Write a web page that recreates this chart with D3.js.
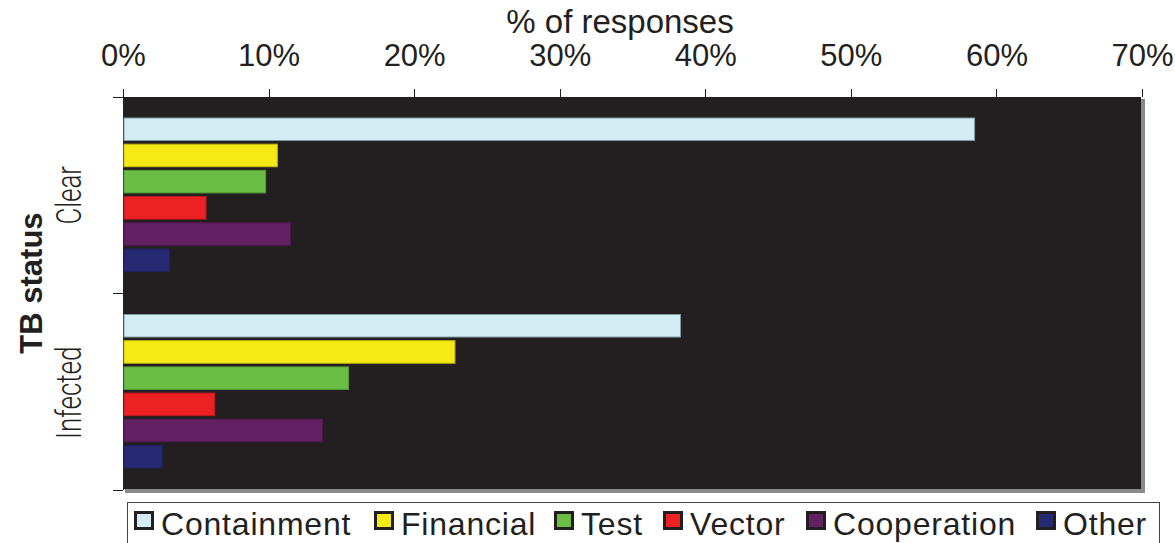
<!DOCTYPE html>
<head>
<meta charset="utf-8">
<title>TB status - % of responses</title>
<script src="https://d3js.org/d3.v7.min.js"></script>
<style>
body { margin: 0; background: #fff; }
.tick text { font-family: "Liberation Sans", Arial, sans-serif; font-size: 31px; fill: #231f20; }
.axis line { stroke: #231f20; stroke-width: 1; shape-rendering: crispEdges; }
.axis path { stroke: #231f20; stroke-width: 1; shape-rendering: crispEdges; }
.cat { font-family: Roboto, sans-serif; font-weight: 300; font-size: 36px; fill: #231f20; }
.legend text { font-family: "Liberation Sans", Arial, sans-serif; font-size: 32px; letter-spacing: 0.8px; fill: #231f20; }
</style>
</head>
<body>
<div id="container"></div>
<script>
// ---------- data ----------
var groups = ["Clear", "Infected"];
var seriesNames = ["Containment", "Financial", "Test", "Vector", "Cooperation", "Other"];
var seriesColors = ["#d3ecf3", "#f5e916", "#6abd45", "#ed2024", "#632063", "#262a73"];
var clearValues = [58.5, 10.6, 9.8, 5.7, 11.5, 3.2];
var infectedValues = [38.3, 22.8, 15.5, 6.3, 13.7, 2.7];
var xTicks = [0, 10, 20, 30, 40, 50, 60, 70];

// ---------- svg ----------
var W = 1175, H = 543;
var margin = {top: 97, right: 33, bottom: 53, left: 123};
var width = W - margin.left - margin.right,   // 1019
    height = H - margin.top - margin.bottom;  // 393

var root = d3.select("#container").append("svg")
    .attr("width", W).attr("height", H);
var svg = root.append("g")
    .attr("transform", "translate(" + margin.left + "," + margin.top + ")");

// ---------- scales ----------
var x = d3.scaleLinear().domain([0, 70]).range([0, width]);
var y0 = d3.scaleBand().domain(groups).range([0, height]);
var y1 = d3.scaleBand().domain(seriesNames).range([21, y0.bandwidth() - 22]).paddingInner(0.14);

// panel background with gray shadow
svg.append("rect")
    .attr("x", 2).attr("y", 2).attr("width", width + 1).attr("height", height + 1)
    .attr("fill", "#8a8a8c");
svg.append("rect")
    .attr("x", 0).attr("y", 0).attr("width", width - 1).attr("height", height - 1)
    .attr("fill", "#231f20");

// ---------- axes ----------
svg.append("g")
    .attr("class", "axis")
    .call(d3.axisTop(x).tickValues(xTicks).tickSize(8).tickPadding(23)
        .tickFormat(function(d) { return d + "%"; }))
    .call(function(g) { g.select(".domain").remove(); });

var yAxis = svg.append("g").attr("class", "axis");
yAxis.selectAll("line")
    .data([0, y0.bandwidth(), height])
    .enter().append("line")
    .attr("x1", -10).attr("x2", 0)
    .attr("y1", function(d) { return d; }).attr("y2", function(d) { return d; });
yAxis.append("line").attr("x1", 0).attr("x2", 0).attr("y1", 0).attr("y2", height)
    .attr("stroke", "#bdbdbd");

// ---------- bars ----------
var data = [clearValues, infectedValues];
var grp = svg.selectAll(".grp")
    .data(groups)
    .enter().append("g")
    .attr("transform", function(d) { return "translate(0," + y0(d) + ")"; });

grp.selectAll("rect")
    .data(function(d, i) {
        return seriesNames.map(function(s, j) { return {s: s, v: data[i][j], c: seriesColors[j]}; });
    })
    .enter().append("rect")
    .attr("x", 1)
    .attr("y", function(d) { return y1(d.s); })
    .attr("width", function(d) { return x(d.v) - 1; })
    .attr("height", y1.bandwidth())
    .attr("fill", function(d) { return d.c; })
    .attr("stroke", function(d) { return d.s === "Containment" ? "#7d9aa3" : d3.color(d.c).darker(0.6); })
    .attr("stroke-width", 1);

// ---------- category labels ----------
grp.append("text")
    .attr("class", "cat")
    .attr("transform", function(d) {
        return "translate(" + (-42) + "," + (y0.bandwidth() / 2 + (d === "Clear" ? 0 : 1)) + ") rotate(-90) scale(0.72,1)";
    })
    .attr("text-anchor", "middle")
    .text(function(d) { return d; });

// ---------- titles ----------
root.append("text")
    .attr("x", 620).attr("y", 33)
    .attr("text-anchor", "middle")
    .style("font-family", "Liberation Sans, Arial, sans-serif")
    .style("font-size", "33px")
    .style("fill", "#231f20")
    .text("% of responses");

root.append("text")
    .attr("transform", "translate(42,283) rotate(-90)")
    .attr("text-anchor", "middle")
    .style("font-family", "Liberation Sans, Arial, sans-serif")
    .style("font-weight", "bold")
    .style("font-size", "31px")
    .style("fill", "#231f20")
    .text("TB status");

// ---------- legend ----------
var legend = root.append("g").attr("class", "legend");
legend.append("rect")
    .attr("x", 127.5).attr("y", 502.5).attr("width", 1032).attr("height", 45)
    .attr("fill", "#fff").attr("stroke", "#444").attr("stroke-width", 1);

var legendX = [134, 374, 554, 663, 806, 1036];
var items = legend.selectAll(".item")
    .data(seriesNames)
    .enter().append("g")
    .attr("transform", function(d, i) { return "translate(" + legendX[i] + ",511)"; });
items.append("rect")
    .attr("x", 1.5).attr("y", 1.5).attr("width", 17).attr("height", 16)
    .attr("fill", function(d, i) { return seriesColors[i]; })
    .attr("stroke", "#231f20").attr("stroke-width", 3);
items.append("text")
    .attr("x", 27).attr("y", 24)
    .text(function(d) { return d; });
</script>
</body>
